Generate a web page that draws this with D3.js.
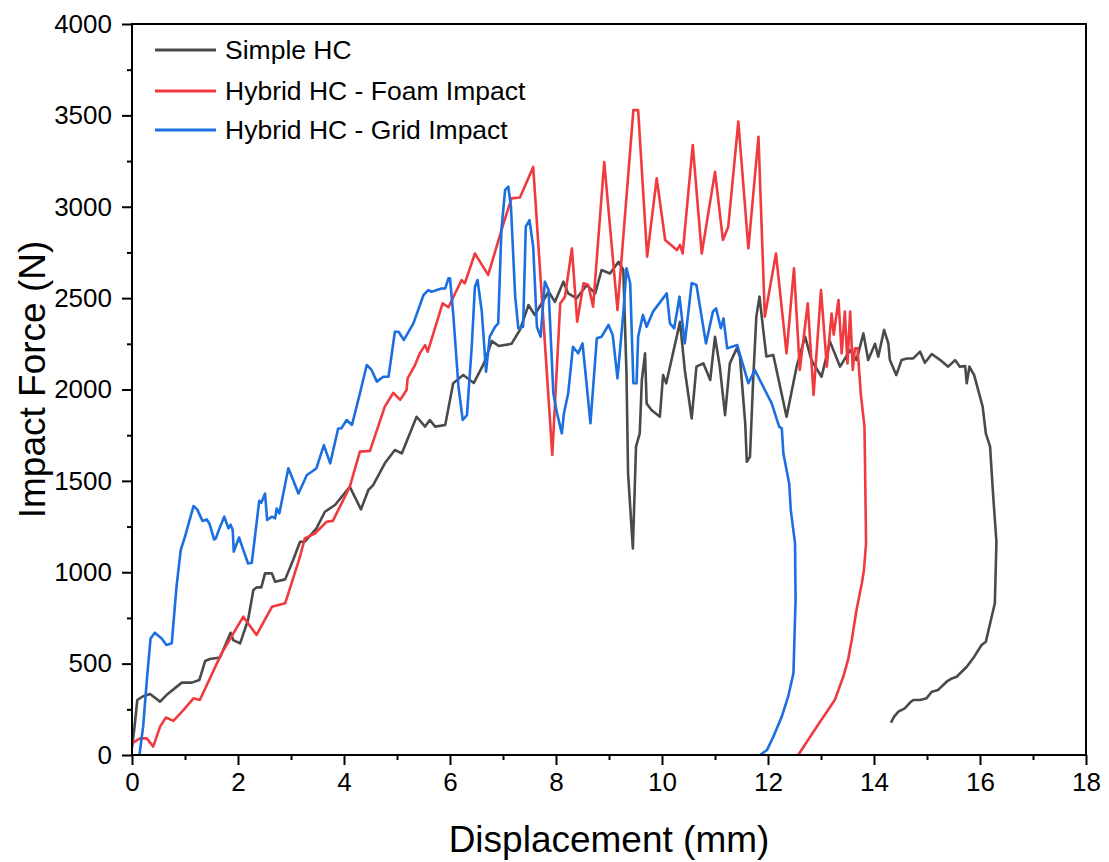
<!DOCTYPE html>
<html>
<head>
<meta charset="utf-8">
<script src="https://cdn.jsdelivr.net/npm/d3@7"></script>
<style>
  html, body { margin: 0; padding: 0; background: #fff; }
  svg { display: block; }
  text { font-family: "Liberation Sans", Arial, sans-serif; fill: #000; }
</style>
</head>
<body>
<svg id="chart" width="1109" height="862"></svg>
<script>
// ---------- data ----------
const seriesNames = ["Simple HC", "Hybrid HC - Foam Impact", "Hybrid HC - Grid Impact"];
const seriesColors = ["#4a4a4a", "#f03a3e", "#1b6fe0"];

const simpleX = [0.0,0.05,0.1,0.2,0.34,0.53,0.65,0.94,1.13,1.27,1.38,1.47,1.66,1.86,1.91,2.04,2.19,2.29,2.35,2.44,2.51,2.64,2.70,2.89,3.04,3.17,3.26,3.48,3.64,3.83,4.11,4.32,4.46,4.55,4.77,4.96,5.09,5.37,5.53,5.62,5.72,5.91,6.0,6.06,6.25,6.45,6.64,6.79,6.92,7.16,7.32,7.48,7.60,7.86,7.98,8.14,8.23,8.39,8.58,8.74,8.86,9.02,9.18,9.27,9.33,9.36,9.45,9.51,9.58,9.62,9.68,9.71,9.80,9.96,10.02,10.08,10.34,10.43,10.56,10.65,10.78,10.91,11.0,11.09,11.19,11.28,11.41,11.47,11.57,11.6,11.66,11.72,11.78,11.84,11.91,11.97,12.10,12.35,12.54,12.70,12.82,13.01,13.17,13.36,13.55,13.67,13.80,13.89,14.02,14.08,14.19,14.27,14.30,14.42,14.52,14.62,14.74,14.87,14.96,15.09,15.25,15.40,15.53,15.62,15.72,15.75,15.80,15.89,16.05,16.11,16.19,16.25,16.31,16.28,16.11,16.03,15.87,15.75,15.56,15.47,15.37,15.21,15.09,14.99,14.87,14.74,14.68,14.58,14.46,14.38,14.32];
const simpleY = [40,160,301,320,334,292,328,396,396,410,514,525,534,669,629,611,739,903,917,917,994,994,948,961,1067,1167,1167,1240,1331,1368,1468,1344,1450,1477,1596,1669,1650,1851,1797,1833,1797,1806,1943,2034,2079,2036,2143,2265,2238,2250,2326,2462,2408,2535,2480,2590,2526,2499,2572,2526,2654,2635,2699,2654,2088,1541,1130,1687,1760,2052,2198,1924,1888,1851,2079,2034,2370,2107,1841,2125,2143,2052,2289,2125,1860,2143,2225,2180,1815,1605,1632,2052,2400,2508,2326,2180,2189,1851,2125,2289,2161,2070,2262,2125,2216,2161,2307,2161,2250,2180,2326,2252,2161,2079,2161,2170,2170,2207,2146,2194,2161,2125,2161,2125,2128,2034,2125,2079,1906,1760,1687,1413,1167,830,620,602,529,483,428,419,401,356,346,310,301,301,287,255,237,210,177];

const foamX = [0.0,0.15,0.28,0.40,0.53,0.64,0.78,0.97,1.16,1.28,1.69,2.10,2.35,2.64,2.89,3.17,3.26,3.45,3.67,3.79,4.11,4.30,4.49,4.77,4.93,5.06,5.18,5.20,5.34,5.43,5.53,5.58,5.86,5.97,6.22,6.28,6.47,6.72,7.0,7.16,7.32,7.57,7.93,8.08,8.17,8.30,8.40,8.52,8.61,8.70,8.91,9.16,9.46,9.55,9.72,9.90,10.06,10.28,10.34,10.39,10.58,10.75,11.0,11.15,11.25,11.44,11.63,11.82,11.94,12.15,12.35,12.49,12.60,12.75,12.86,13.00,13.11,13.20,13.24,13.33,13.39,13.45,13.50,13.55,13.60,13.64,13.69,13.75,13.82,13.83,13.85,13.81,13.77,13.67,13.58,13.51,13.42,13.26,12.92,12.57];
const foamY = [64,91,91,46,155,205,187,246,310,301,556,757,657,811,830,1085,1185,1212,1276,1281,1468,1660,1664,1906,1982,1943,1997,2061,2134,2198,2243,2207,2471,2450,2599,2581,2744,2627,2900,3046,3051,3218,1642,2471,2508,2772,2371,2581,2572,2453,3245,2435,3529,3529,2727,3156,2818,2763,2791,2744,3338,2744,3191,2818,2891,3466,2772,3383,2398,2744,2198,2663,2107,2472,1970,2544,2125,2416,2300,2490,2198,2426,2143,2426,2107,2225,2225,1979,1797,1614,1158,1012,939,793,629,520,428,301,155,0];

const gridX = [0.14,0.21,0.28,0.35,0.43,0.56,0.65,0.75,0.84,0.92,1.0,1.16,1.23,1.33,1.41,1.46,1.55,1.58,1.65,1.74,1.82,1.86,1.90,1.92,2.02,2.10,2.19,2.26,2.35,2.40,2.44,2.51,2.55,2.64,2.70,2.73,2.78,2.95,3.04,3.14,3.30,3.39,3.48,3.62,3.74,3.89,3.95,4.05,4.15,4.30,4.43,4.52,4.62,4.74,4.84,4.96,5.03,5.13,5.31,5.50,5.59,5.65,5.84,5.91,5.97,6.0,6.06,6.16,6.24,6.32,6.41,6.47,6.52,6.60,6.68,6.75,6.85,6.91,6.97,7.04,7.10,7.15,7.23,7.29,7.38,7.43,7.50,7.57,7.64,7.71,7.79,7.86,7.95,8.02,8.11,8.15,8.23,8.32,8.42,8.50,8.57,8.65,8.77,8.86,8.99,9.07,9.16,9.27,9.33,9.40,9.46,9.52,9.55,9.64,9.71,9.83,10.09,10.15,10.23,10.33,10.43,10.56,10.65,10.83,10.96,11.02,11.11,11.16,11.23,11.42,11.63,11.75,11.91,12.07,12.21,12.26,12.29,12.40,12.43,12.51,12.52,12.48,12.38,12.26,12.10,11.98,11.85];
const gridY = [0,155,410,638,669,638,602,611,921,1122,1195,1362,1344,1281,1289,1267,1179,1185,1240,1304,1240,1260,1231,1113,1190,1122,1048,1052,1267,1391,1380,1431,1286,1304,1295,1349,1322,1569,1505,1431,1532,1550,1569,1696,1596,1787,1787,1833,1806,1979,2134,2107,2043,2070,2070,2316,2316,2271,2362,2517,2544,2535,2553,2553,2608,2608,2416,2015,1833,1860,2234,2562,2599,2426,2097,2289,2343,2362,2873,3092,3110,3000,2508,2335,2343,2891,2927,2781,2343,2289,2590,2544,1979,1870,1760,1870,1979,2234,2198,2252,2052,1815,2280,2289,2353,2298,2061,2416,2663,2580,2034,2034,2289,2408,2343,2426,2526,2362,2335,2508,2252,2583,2572,2252,2426,2444,2335,2389,2225,2243,2034,2107,2015,1924,1797,1787,1650,1486,1340,1158,848,447,319,210,100,27,0];

const xTicks = [0,2,4,6,8,10,12,14,16,18];
const yTicks = [0,500,1000,1500,2000,2500,3000,3500,4000];
const xLabel = "Displacement (mm)";
const yLabel = "Impact Force (N)";

// ---------- layout ----------
const svg = d3.select("#chart");
const L = 132, R = 1086, T = 24, B = 755;
const x = d3.scaleLinear().domain([0, 18]).range([L, R]);
const y = d3.scaleLinear().domain([0, 4000]).range([B, T]);

svg.append("rect").attr("width", 1109).attr("height", 862).attr("fill", "#fff");

const series = [
  {xs: simpleX, ys: simpleY},
  {xs: foamX, ys: foamY},
  {xs: gridX, ys: gridY}
];
const line = d3.line().x(d => x(d[0])).y(d => y(d[1]));
svg.append("clipPath").attr("id", "clip").append("rect")
  .attr("x", L).attr("y", T).attr("width", R - L).attr("height", B - T);
const g = svg.append("g").attr("clip-path", "url(#clip)");
[0, 1, 2].forEach(i => {
  const pts = series[i].xs.map((v, k) => [v, series[i].ys[k]]);
  g.append("path").attr("d", line(pts))
    .attr("fill", "none").attr("stroke", seriesColors[i])
    .attr("stroke-width", 2.6).attr("stroke-linejoin", "round");
});

// axes
const xAxis = d3.axisBottom(x).tickValues(xTicks).tickSize(10).tickPadding(8).tickFormat(d3.format("d"));
const xMinor = d3.axisBottom(x).tickValues(d3.range(1, 18, 2)).tickSize(5).tickFormat("");
const yAxis = d3.axisLeft(y).tickValues(yTicks).tickSize(10).tickPadding(10).tickFormat(d3.format("d"));
const yMinor = d3.axisLeft(y).tickValues(d3.range(250, 4000, 500)).tickSize(5).tickFormat("");

function styleAxis(sel) {
  sel.selectAll("path.domain").remove();
  sel.selectAll(".tick line").attr("stroke", "#000").attr("stroke-width", 2);
  sel.selectAll(".tick text").style("font-family", '"Liberation Sans", Arial, sans-serif')
    .style("font-size", "26px").attr("fill", "#000");
}
svg.append("g").attr("transform", `translate(0,${B})`).call(xAxis).call(styleAxis);
svg.append("g").attr("transform", `translate(0,${B})`).call(xMinor).call(styleAxis);
svg.append("g").attr("transform", `translate(${L},0)`).call(yAxis).call(styleAxis);
svg.append("g").attr("transform", `translate(${L},0)`).call(yMinor).call(styleAxis);

// frame
svg.append("rect").attr("x", L).attr("y", T).attr("width", R - L).attr("height", B - T)
  .attr("fill", "none").attr("stroke", "#000").attr("stroke-width", 2);

// axis titles
svg.append("text").attr("x", (L + R) / 2).attr("y", 852).attr("text-anchor", "middle")
  .style("font-size", "37px").text(xLabel);
svg.append("text").attr("transform", `translate(45,${(T + B) / 2 - 10}) rotate(-90)`)
  .attr("text-anchor", "middle").style("font-size", "37px").text(yLabel);

// legend
const legY = [50, 91, 130];
seriesNames.forEach((name, i) => {
  svg.append("line").attr("x1", 155).attr("x2", 216).attr("y1", legY[i]).attr("y2", legY[i])
    .attr("stroke", seriesColors[i]).attr("stroke-width", 2.8);
  svg.append("text").attr("x", 225).attr("y", legY[i]).attr("dy", "0.35em")
    .style("font-size", "26.5px").text(name);
});
</script>
</body>
</html>
